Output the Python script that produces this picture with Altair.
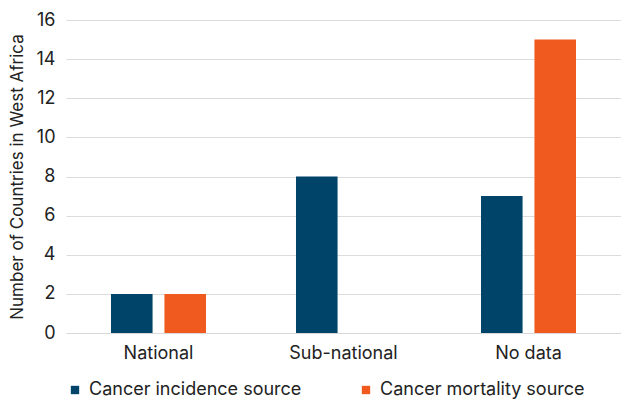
import altair as alt
import pandas as pd

categories = ["National", "Sub-national", "No data"]
series = ["Cancer incidence source", "Cancer mortality source"]
incidence = [2, 8, 7]
mortality = [2, 0, 15]
colors = ["#00446A", "#F15A1F"]

rows = []
for i, c in enumerate(categories):
    rows.append({"cat": c, "series": series[0], "value": incidence[i]})
    rows.append({"cat": c, "series": series[1], "value": mortality[i]})
df = pd.DataFrame(rows)

FONT = "Inter"
FS = 18

chart = alt.Chart(df).mark_bar().encode(
    x=alt.X("cat:N", sort=categories, title=None,
            scale=alt.Scale(paddingInner=0, paddingOuter=0),
            axis=alt.Axis(labelAngle=0, labelFontSize=FS, labelColor="#222",
                          labelFont=FONT, ticks=False, domainColor="#d9d9d9",
                          labelPadding=11)),
    xOffset=alt.XOffset("series:N", sort=series,
                        scale=alt.Scale(paddingInner=0.222, paddingOuter=0.842)),
    y=alt.Y("value:Q", title="Number of Countries in West Africa",
            scale=alt.Scale(domain=[0, 16]),
            axis=alt.Axis(values=list(range(0, 17, 2)), labelFontSize=FS,
                          labelFont=FONT, labelColor="#222", titleFont=FONT,
                          titleFontSize=17, titleFontWeight="normal",
                          titleColor="#222", domain=False, ticks=False,
                          gridColor="#dcdcdc", labelPadding=11, titlePadding=10)),
    color=alt.Color("series:N", sort=series,
                    scale=alt.Scale(domain=series, range=colors),
                    legend=alt.Legend(orient="bottom", title=None,
                                      symbolType="square", symbolSize=70,
                                      labelFontSize=FS, labelFont=FONT,
                                      labelColor="#222", columnPadding=55,
                                      labelLimit=0, labelOffset=5,
                                      symbolStrokeWidth=0, offset=19)),
).properties(width=555, height=313,
             padding={"left": 0, "top": 3, "right": 0, "bottom": 0}
).configure_view(stroke=None)

chart.save("out.html", embed_options={"renderer": "svg", "actions": False})
